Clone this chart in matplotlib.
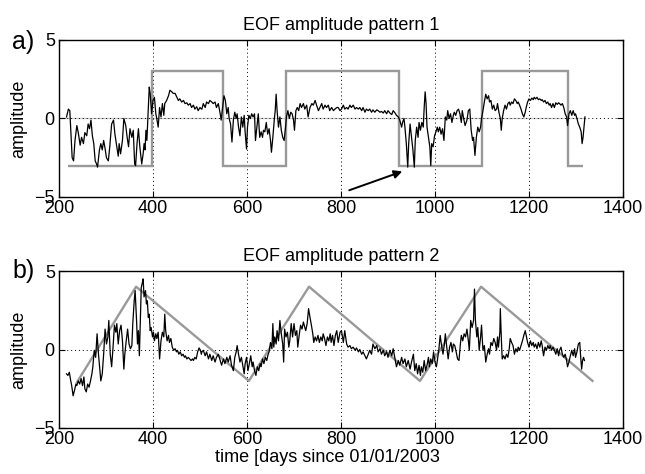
import matplotlib
matplotlib.use("Agg")
import matplotlib.pyplot as plt

plt.rcParams["font.family"] = ["Liberation Sans", "DejaVu Sans"]

# pattern 1 amplitude (black)
t1 = [216, 220, 223, 225, 228, 231, 234, 238, 241, 245, 248, 252, 255, 259, 262, 265, 268, 271, 274, 277,
      280, 282, 286, 289, 292, 295, 298, 301, 305, 308, 312, 316, 319, 323, 326, 328, 331, 335, 338, 342,
      345, 348, 351, 355, 358, 361, 363, 366, 369, 372, 376, 379, 381, 383, 385, 387, 389, 392, 394, 397,
      400, 403, 406, 408, 411, 414, 417, 420, 423, 425, 429, 433, 436, 440, 443, 447, 450, 454, 457, 461,
      465, 468, 472, 475, 479, 482, 486, 489, 493, 496, 500, 503,
      504, 507, 511, 514, 518, 521, 525, 528, 532, 535, 539, 543, 545, 548, 551, 554, 557, 560, 562, 565,
      568, 571, 574, 577, 579, 582, 585, 588, 591, 594, 596, 599, 601, 604, 607, 610, 613, 616, 618, 621,
      624, 627, 630, 633, 635, 638, 641, 644, 647, 650, 652, 655, 658, 660, 662, 664, 667, 670, 673, 676,
      679, 682, 684, 687, 690, 693, 696, 699, 701, 704, 707, 710, 713, 716, 720, 723, 727, 730, 734, 738,
      741, 745, 748, 752, 755, 759, 762, 766, 769, 773, 776, 780, 784, 787, 791,
      794, 798, 801, 805, 808, 812, 815, 819, 822, 826, 830, 833, 837, 840, 844, 847, 851, 854, 858, 861,
      865, 868, 872, 876, 879, 883, 886, 890, 893, 897, 900, 904, 908, 911, 915, 918, 922, 925, 929, 931,
      934, 936, 939, 942, 944, 947, 950, 953, 956, 958, 961, 964, 966, 969, 972, 975, 977, 979, 981, 983,
      986, 989, 991, 993, 996, 999, 1002, 1005, 1007, 1010, 1013, 1016, 1019, 1022, 1025, 1027, 1030, 1033,
      1036, 1039, 1041, 1044, 1047, 1050, 1053, 1056, 1058, 1061,
      1064, 1068, 1071, 1074, 1077, 1080, 1082, 1085, 1088, 1091, 1094, 1097, 1099, 1102, 1105, 1108, 1111,
      1114, 1116, 1119, 1122, 1125, 1128, 1131, 1133, 1136, 1139, 1141, 1143, 1146, 1149, 1152, 1155, 1158,
      1160, 1163, 1166, 1169, 1172, 1175, 1177, 1180, 1183, 1186, 1189, 1192, 1194, 1197, 1200, 1203, 1206,
      1209, 1211, 1214, 1217, 1220, 1223, 1226, 1228, 1231, 1234, 1237, 1240, 1243, 1245, 1248, 1251, 1254,
      1257, 1260, 1263, 1265, 1268, 1271, 1274, 1277, 1280, 1282, 1285, 1288, 1291, 1294, 1297, 1299, 1302,
      1305, 1308, 1311, 1313, 1315, 1317, 1319]
a1 = [0.1, 0.6, 0.5, -0.75, -2.5, -2.7, -1.4, -0.45, -0.9, -1.7, -1.2, -1.6, -0.9, -1.1, -0.35, -0.65, -0.1, -1.1, -1.6, -2.7,
      -2.9, -3.1, -2.0, -1.6, -2.0, -1.4, -1.9, -2.5, -2.7, -1.8, -0.35, -0.1, -1.0, -1.8, -2.4, -1.6, -2.25, -1.4, 0.0, -0.45,
      -1.2, -1.8, -0.65, -1.2, -0.75, -2.9, -3.0, -1.6, -0.65, -1.8, -2.9, -2.25, -1.6, -2.0, -0.75, -1.4, 0.0, 2.0, 1.6, 0.3,
      1.15, 1.35, 0.3, 0.0, -0.55, 0.7, 0.1, 0.95, 0.2, 0.95, 1.15, 1.45, 1.8, 1.7, 1.6, 1.6, 1.4, 1.15, 1.25, 1.05,
      1.15, 0.95, 1.0, 0.85, 0.95, 0.7, 0.85, 0.6, 0.75, 0.5, 0.7, 0.6,
      0.6, 0.95, 0.7, 1.05, 0.95, 1.15, 1.05, 0.95, 1.05, 0.7, 0.95, 0.3, -0.1, 0.7, 1.45, 1.15, 0.3, 0.7, 0.0, -0.35,
      -1.5, -0.1, 0.4, 0.0, 0.3, -0.55, -1.1, 0.1, -0.55, 0.2, -0.85, -1.95, -0.55, 0.2, 0.0, 0.3, 0.1, 0.3, -1.4, -0.55,
      0.3, -1.2, -0.85, -1.2, -0.75, -0.85, -0.25, -1.0, -0.65, -1.4, -2.15, -1.2, -0.1, 0.5, 1.55, 0.5, -0.55, 0.1, -0.75, -1.2,
      -1.4, -0.55, 0.1, 0.5, 0.0, 0.4, 0.3, -0.1, -0.75, 0.5, 0.7, 0.5, 0.95, 0.7, 0.95, 0.6, 0.85, 0.1, 0.7, 0.95,
      0.85, 1.15, 0.85, 0.5, 0.7, 0.95, 0.6, 0.85, 0.7, 0.85, 0.5, 0.7, 0.5, 0.6, 0.7,
      0.7, 0.5, 0.6, 0.85, 0.6, 0.7, 0.6, 0.85, 0.7, 0.85, 0.6, 0.7, 0.6, 0.7, 0.5, 0.7, 0.4, 0.6, 0.5, 0.6,
      0.4, 0.55, 0.4, 0.55, 0.5, 0.4, 0.45, 0.35, 0.5, 0.3, 0.5, 0.35, 0.25, 0.5, 0.35, 0.2, 0.1, -0.1, -0.55, -0.25,
      0.0, -0.55, -1.6, -3.1, -1.6, -0.35, -1.2, -2.0, -3.1, -1.4, -0.55, -1.2, -0.25, -0.75, -0.25, -0.55, 0.7, 1.7, 0.95, -0.55,
      -1.2, -1.8, -3.0, -1.6, -1.8, -1.1, -0.85, -0.55, -0.85, -0.55, -1.0, -0.65, -1.4, 0.1, -0.1, 0.5, 0.0, 0.3,
      -0.25, 0.2, 0.4, 0.2, 0.5, 0.6, 0.3, -0.25, 0.5, 0.0,
      -0.45, -0.1, 0.5, 0.6, -0.75, -1.4, -1.2, -2.35, -1.2, -0.55, -0.85, -0.55, 0.0, 0.5, 1.05, 1.55, 1.25,
      1.45, 1.05, 1.15, 0.6, 0.85, 0.5, 0.6, 0.95, 0.4, 0.0, -0.75, 0.0, 0.5, 0.85, 0.6, 0.95, 1.05,
      0.85, 1.05, 0.95, 1.25, 1.15, 0.95, 1.05, 0.85, 0.6, 0.3, 0.1, 0.4, 0.7, 1.05, 1.25, 1.15, 1.3,
      1.2, 1.35, 1.25, 1.35, 1.2, 1.25, 1.15, 1.2, 1.05, 1.15, 0.95, 1.05, 0.85, 0.95, 0.7, 0.95, 0.7,
      1.0, 0.9, 1.0, 0.95, 0.85, 0.95, 0.7, 0.3, 0.1, -0.45, 0.3, 0.5, 0.2, 0.5, 0.2, 0.3, 0.0,
      -0.35, -0.55, -0.85, -1.6, -1.2, -0.55, 0.1]

# idealised square wave for pattern 1 (grey)
sq_edges = [220, 397, 548, 684, 923, 1101, 1284, 1315]
sq_levels = [-3, 3, -3, 3, -3, 3, -3]

# pattern 2 amplitude (black)
t2 = [216, 219, 222, 225, 227, 230, 233, 236, 238, 241, 244, 247, 250, 253, 255, 258, 261, 264, 267, 270,
      272, 275, 278, 281, 284, 287, 289, 292, 295, 298, 301, 304, 306, 309, 312, 315, 318, 321, 323, 326,
      329, 332, 335, 338, 340, 343, 346, 349, 352, 355, 357, 360, 362, 365, 367, 369, 371, 373, 375, 377,
      379, 381, 384, 386, 388, 390, 392, 394, 396, 399, 401, 403, 406, 408, 411, 414, 417, 420, 423, 425,
      427, 430, 433, 435, 438, 441, 444, 447, 450, 452, 455, 458, 461, 464, 467, 469, 472, 475, 478, 481,
      484, 486, 489, 492, 495, 498, 501, 503,
      504, 507, 511, 514, 518, 521, 525, 528, 532, 535, 539, 543, 546, 550, 553, 557, 560, 564, 567, 571,
      574, 577, 579, 582, 585, 588, 591, 594, 596, 599, 602, 605, 608, 611, 613, 616, 619, 622, 625, 628,
      630, 633, 636, 639, 642, 645, 647, 650, 653, 655, 657, 659, 662, 664, 667, 670, 673, 676, 678, 680,
      683, 686, 689, 691, 694, 697, 700, 703, 706, 708, 711, 714, 717, 720, 723, 725, 728, 731, 734, 737,
      740, 742, 745, 748, 751, 754, 757, 760, 762, 765, 768, 771, 774, 777, 779, 782, 785, 788, 791,
      794, 798, 801, 805, 808, 812, 815, 819, 822, 826, 830, 833, 837, 840, 844, 847, 851, 854, 858, 861,
      865, 868, 872, 876, 879, 883, 886, 890, 893, 897, 900, 904, 908, 911, 915, 918, 922, 925, 929, 932,
      936, 939, 943, 947, 950, 954, 957, 960, 963, 966, 969, 971, 974, 977, 980, 983, 986, 988, 991, 994,
      997, 1000, 1003, 1005, 1008, 1011, 1014, 1017, 1020, 1022, 1025, 1028, 1031, 1034, 1037, 1039, 1042,
      1045, 1048, 1051, 1054, 1056, 1059, 1062, 1065, 1068, 1071, 1073, 1076, 1079,
      1082, 1084, 1086, 1089, 1091, 1094, 1097, 1099, 1102, 1105, 1108, 1111, 1114, 1116, 1119, 1122, 1125,
      1128, 1131, 1133, 1135, 1138, 1139, 1141, 1143, 1146, 1149, 1152, 1155, 1158, 1160, 1163, 1166, 1169,
      1172, 1175, 1177, 1180, 1183, 1186, 1189, 1192, 1194, 1197, 1200, 1203, 1206, 1209, 1211, 1214, 1217,
      1220, 1223, 1226, 1228, 1231, 1234, 1237, 1240, 1243, 1245, 1248, 1251, 1254, 1257, 1260, 1263, 1265,
      1268, 1271, 1274, 1277, 1280, 1282, 1285, 1288, 1291, 1294, 1297, 1299, 1302, 1305, 1308, 1310, 1312,
      1314, 1316, 1318]
a2 = [-1.55, -1.65, -1.45, -2.0, -2.3, -2.95, -2.6, -2.2, -2.3, -2.0, -2.2, -1.85, -2.3, -1.75, -2.5, -2.7, -2.2, -2.4, -2.0, -1.55,
      -1.1, -0.05, -0.5, 1.0, -0.3, -1.35, -2.0, -1.55, -0.3, 1.3, 0.35, 0.8, 1.85, -0.3, -1.1, 0.15, 1.55, 1.1, 1.65, 0.35,
      1.2, 1.55, 0.55, -1.25, -0.3, 0.55, 1.3, 0.35, 0.05, 0.25, 1.65, 3.1, 3.75, 1.85, 0.35, 1.2, -0.4, 1.85, 3.95, 4.2,
      4.5, 3.35, 3.75, 2.9, 3.1, 2.05, 2.25, 1.2, 1.4, 0.8, 1.1, 0.55, 1.0, 0.7, 1.1, -0.6, 0.55, 1.1, 0.8, 2.25,
      1.2, 0.55, 0.9, 0.45, 0.7, 0.15, -0.05, 0.05, -0.15, -0.05, -0.3, -0.15, -0.4, -0.3, -0.5, -0.4, -0.6, -0.5, -0.6, -0.7,
      -0.6, -0.7, -0.5, -0.6, -0.15, 0.1, -0.05, -0.3,
      -0.15, -0.05, -0.4, -0.15, -0.6, -0.3, -0.7, -0.4, -0.8, -0.5, -0.3, -0.7, -1.0, -0.6, -0.9, -0.5, -0.8, -0.4, -1.0, -1.35,
      -0.5, -0.15, 0.25, -0.3, -0.8, -0.5, -1.0, -1.55, -0.9, -0.5, -1.35, -0.9, -0.4, -1.1, -0.8, -1.35, -1.65, -1.1, -1.35, -0.9,
      -1.1, -0.6, -0.9, -0.5, -0.7, -0.3, -0.15, 0.45, 0.05, 1.65, 0.15, 0.8, 0.35, 1.2, 0.55, 1.85, 1.0, 0.35, -0.8, 1.3,
      0.8, 1.1, 0.15, 0.55, 1.65, 0.8, 1.65, 0.9, 1.2, 0.15, 0.9, 1.55, 1.3, 1.75, 1.4, 1.2, 1.65, 2.6, 2.05, 1.55,
      1.0, 0.45, 0.8, 0.55, 0.9, 0.45, 0.8, 0.55, 1.0, 0.7, 0.25, 0.8, 0.55, 1.0, 0.45, 0.9, 0.25, 0.9, 1.2,
      0.45, 1.1, 1.2, 0.45, 1.2, 0.35, 0.15, 0.25, 0.05, 0.15, -0.05, 0.1, -0.15, 0.0, -0.3, -0.15, -0.4, -0.6, -0.3, -0.05,
      -0.3, 0.35, 0.05, 0.25, -0.15, 0.05, -0.3, -0.05, -0.4, -0.15, -0.5, -0.05, -0.4, 0.05, -0.6, -1.1, -0.7, -1.0, -0.5, -0.9,
      -0.6, -1.1, -0.7, -1.25, -0.8, -0.3, -1.35, -0.9, -1.55, -1.0, -1.65, -1.1, -1.45, -0.7, -1.35, -1.0, -0.5, -1.1, -0.6, -0.9,
      -0.15, -0.8, -1.1, -0.7, -0.05, 0.9, 0.25, -0.3, 0.35, 1.0, 0.15, -0.6, 0.15, 0.45, -0.15, 0.35, 0.25,
      -0.15, -0.6, -0.7, 0.35, 0.9, 0.55, 1.0, 0.8, 1.3, 0.55, -0.05, 1.85, 1.4,
      1.85, 3.85, 1.85, 0.8, 1.4, -0.05, 0.8, 1.55, -0.05, 0.25, -0.8, -0.3, 0.05, -0.3, 0.45, 0.25, 0.7,
      0.45, -0.05, 0.8, 0.15, 1.1, 2.6, 0.8, -0.6, -0.4, -0.6, -0.3, -0.5, 0.05, 0.7, 0.45, 0.25, -0.3,
      0.05, -0.15, 0.15, -0.05, 0.25, 0.55, 0.9, 1.2, 0.9, 0.45, 0.15, 0.55, 0.25, 0.45, 0.15, 0.35, 0.05,
      0.45, 0.15, 0.55, 0.25, -0.4, 0.15, -0.05, 0.25, 0.05, 0.25, -0.05, 0.15, -0.05, -0.3, 0.05, -0.4, -0.05,
      0.15, -0.3, -0.5, -0.3, -0.7, -1.1, -0.8, -0.4, -0.05, -0.4, 0.05, -0.5, -0.15, 0.35, 0.45, -0.5, -1.25,
      -0.7, -0.5, -0.7]

# idealised saw-tooth for pattern 2 (grey)
tri_t = [238, 364, 604, 732, 968, 1098, 1335]
tri_v = [-2.1, 4, -2, 4, -2, 4, -2]

xticks = [200, 400, 600, 800, 1000, 1200, 1400]
yticks = [-5, 0, 5]

fig = plt.figure(figsize=(6.45, 4.74), dpi=100)
ax1 = fig.add_axes([59 / 645, 1 - 197 / 474, 564 / 645, 157 / 474])
ax2 = fig.add_axes([59 / 645, 1 - 428 / 474, 564 / 645, 157 / 474])

grey = "#999999"

ax1.plot([200, 1320], [0, 0], color="#cccccc", lw=1.0, zorder=1)
ax1.stairs(sq_levels, sq_edges, baseline=None, color=grey, lw=1.7, zorder=2)
ax1.plot(t1, a1, color="k", lw=0.9, zorder=3)
ax1.annotate("", xy=(936, -3.31), xytext=(812, -4.63),
             arrowprops=dict(arrowstyle="-|>", color="k", lw=1.4, mutation_scale=12))

ax2.plot(tri_t, tri_v, color=grey, lw=1.7, zorder=2)
ax2.plot(t2, a2, color="k", lw=0.9, zorder=3)

for ax, ttl, tag, ytag in [(ax1, "EOF amplitude pattern 1", "a)", 42),
                           (ax2, "EOF amplitude pattern 2", "b)", 271)]:
    ax.set_xlim(200, 1400)
    ax.set_ylim(-5, 5)
    ax.set_xticks(xticks)
    ax.set_yticks(yticks)
    ax.set_yticklabels(["\u22125", "0", "5"])
    ax.grid(True, linestyle=(0, (1, 3)), color="k", lw=0.7)
    ax.tick_params(direction="in", top=True, right=True, length=4, labelsize=13)
    ax.tick_params(axis="x", pad=2)
    ax.tick_params(axis="y", pad=3)
    ax.set_title(ttl, fontsize=13, pad=7)
    ax.set_ylabel("amplitude", fontsize=13)
    ax.yaxis.set_label_coords(-0.056, 0.5)
    for s in ax.spines.values():
        s.set_linewidth(1.0)
    fig.text(12 / 645, 1 - ytag / 474, tag, fontsize=18, va="center", ha="left")

ax2.set_xlabel("time [days since 01/01/2003", fontsize=13)
ax2.xaxis.set_label_coords((327 - 59) / 564, -0.135)

fig.savefig("out.png", dpi=100)
